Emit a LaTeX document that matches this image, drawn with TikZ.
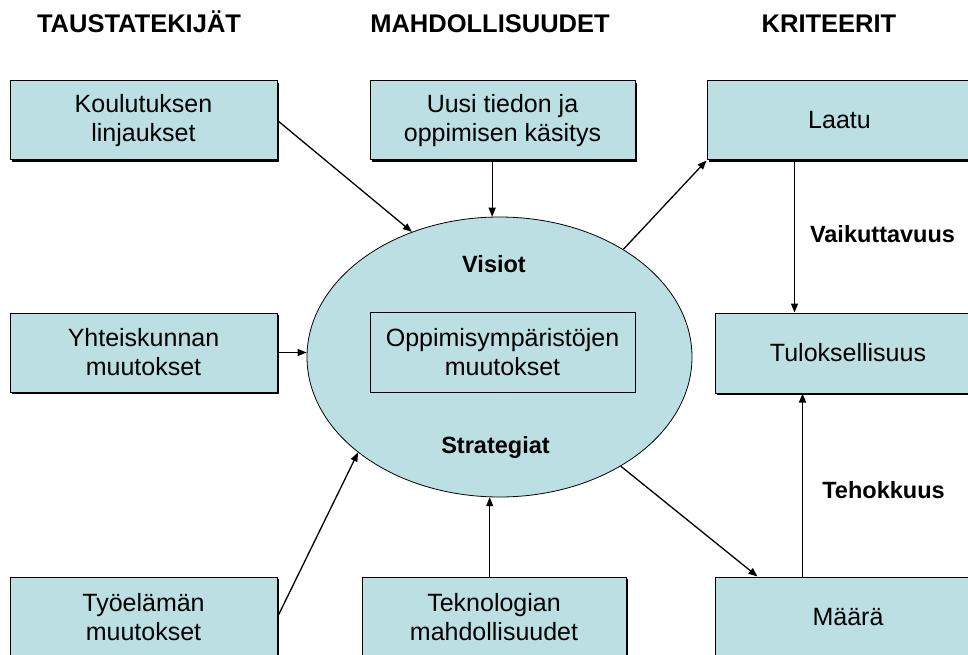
\documentclass[tikz,border=0pt]{standalone}
\usepackage{fontspec}
\setmainfont{Liberation Sans}
\usetikzlibrary{arrows.meta,shapes.geometric,shadows}
\definecolor{boxfill}{HTML}{BBDFE3}

\begin{document}
\begin{tikzpicture}[x=1pt,y=-1pt,
  box/.style={draw=black, line width=1pt, fill=boxfill, inner sep=0pt,
    minimum height=79pt, align=center,
    font=\fontsize{25}{29}\selectfont,
    drop shadow={shadow xshift=2pt, shadow yshift=-2pt, fill=black, opacity=1}},
  plainbox/.style={draw=black, line width=0.8pt, fill=boxfill, inner sep=0pt,
    align=center, font=\fontsize{25}{29}\selectfont},
  hdr/.style={font=\fontsize{25.5}{29}\selectfont\bfseries, anchor=base, inner sep=0pt},
  lbl/.style={font=\fontsize{23.5}{28}\selectfont\bfseries, anchor=base, inner sep=0pt},
  conn/.style={line width=1.3pt, -{Triangle[length=9pt,width=7pt]}}]

\useasboundingbox (0,0) rectangle (968,655);
\clip (0,0) rectangle (968,655);

% column headings
\node[hdr] (h1) at (139,33) {TAUSTATEKIJÄT};
\node[hdr] (h2) at (490,33) {MAHDOLLISUUDET};
\node[hdr] (h3) at (829,33) {KRITEERIT};

% left column
\node[box, minimum width=267pt] (kou) at (143.5,120.5) {Koulutuksen\\linjaukset};
\node[box, minimum width=267pt] (yht) at (143.5,352.5) {Yhteiskunnan\\muutokset};
\node[box, minimum width=267pt, minimum height=80pt] (tyo) at (143.5,617) {Työelämän\\muutokset};

% middle column
\node[box, minimum width=265pt] (uusi) at (502.5,120.5) {Uusi tiedon ja\\oppimisen käsitys};
\node[box, minimum width=264pt, minimum height=80pt] (tek) at (494,617) {Teknologian\\mahdollisuudet};

% right column
\node[box, minimum width=265pt] (laatu) at (839.5,120.5) {Laatu};
\node[box, minimum width=266pt, minimum height=80pt] (tulos) at (848,353) {Tuloksellisuus};
\node[box, minimum width=266pt, minimum height=80pt] (maara) at (848,617) {Määrä};

% central ellipse
\node[ellipse, draw=black, line width=0.8pt, fill=boxfill, inner sep=0pt,
  minimum width=385pt, minimum height=280pt] (ell) at (499.5,357) {};
\node[plainbox, minimum width=265pt, minimum height=80pt] (inner) at (502.5,352)
  {Oppimisympäristöjen\\muutokset};
\node[lbl] (vis) at (494,272) {Visiot};
\node[lbl] (str) at (495.5,453) {Strategiat};

% side labels
\node[lbl] (vai) at (882.5,242) {Vaikuttavuus};
\node[lbl] (teh) at (883.5,498) {Tehokkuus};

% connectors
\draw[conn] (kou.east) -- (ell.125.8);
\draw[conn] (uusi.south -| ell.93.9) -- (ell.93.9);
\draw[conn] (yht.east) -- (yht.east -| ell.west);
\draw[conn] (tyo.east) -- (ell.214.5);
\draw[conn] (tek.north -| ell.266.5) -- (ell.266.5);
\draw[conn] (ell.41.7) -- (laatu.south west);
\draw[conn] (ell.318.1) -- ([xshift=43pt]maara.north west);
\draw[conn] ([xshift=88pt]laatu.south west) -- ([xshift=88pt]laatu.south west |- tulos.north);
\draw[conn] ([xshift=88pt]maara.north west) -- ([xshift=88pt]maara.north west |- tulos.south);
\end{tikzpicture}
\end{document}
